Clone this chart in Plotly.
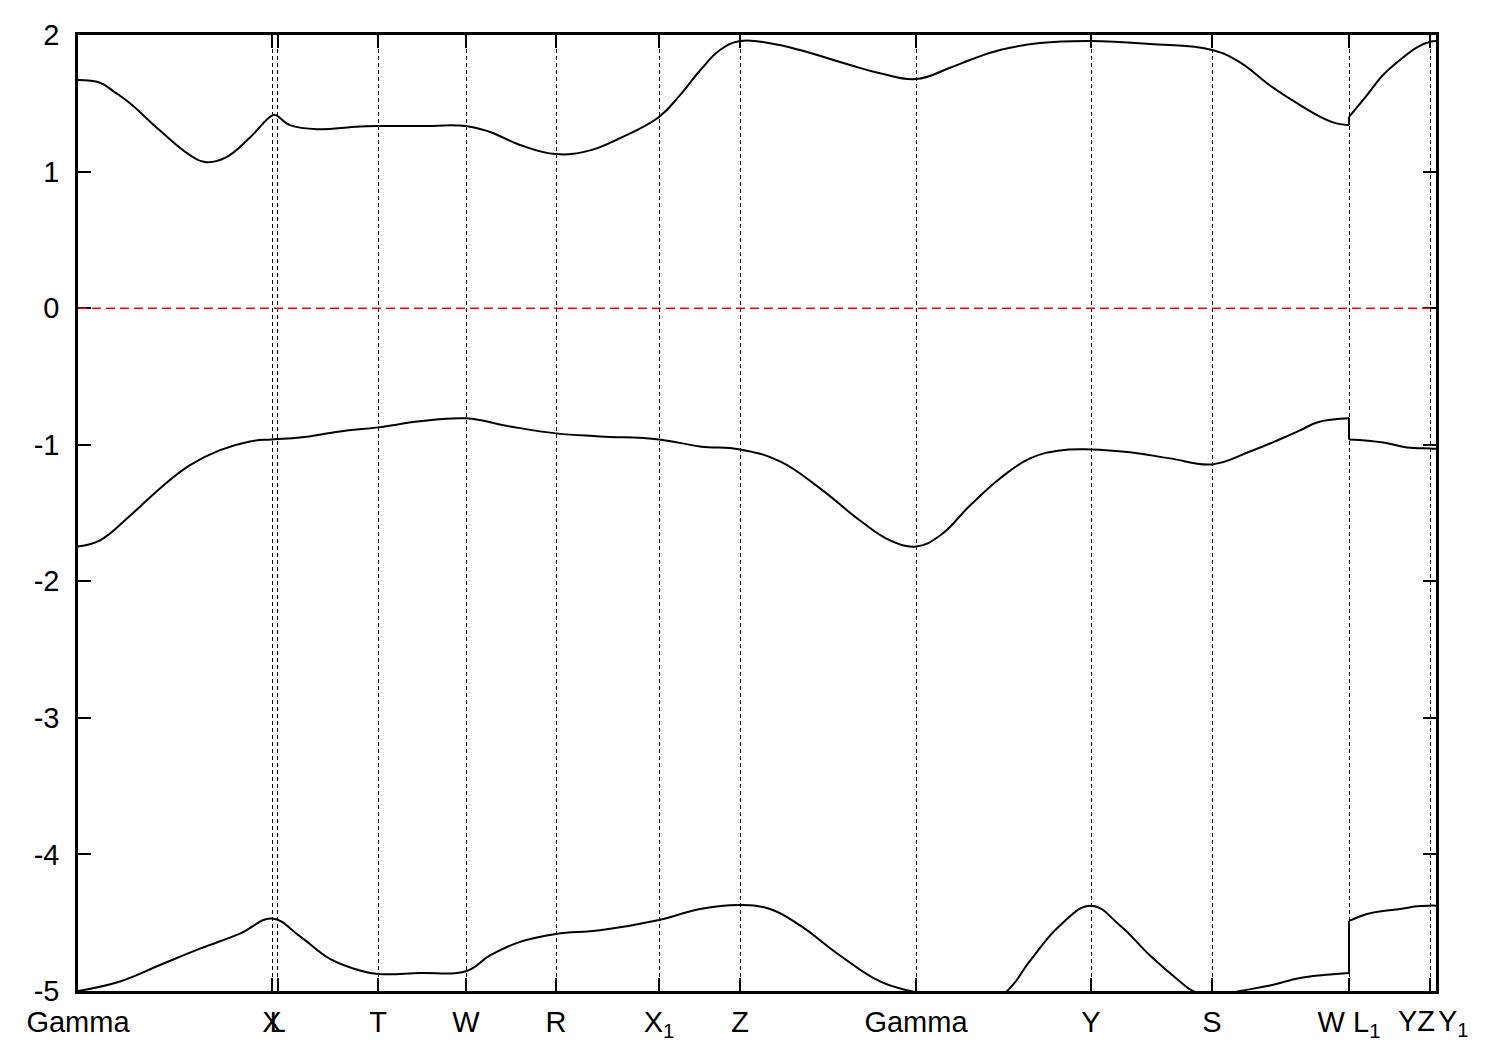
import plotly.graph_objects as go

# High-symmetry points along the k-path (path length, arbitrary units)
kpoint_pos = [0.0, 1.94, 1.995, 3.00, 3.88, 4.78, 5.81, 6.62, 8.38, 10.13, 11.34, 12.71, 13.52, 13.58]
kpoint_lab = ["Gamma", "X", "L", "T", "W", "R", "X<sub>1</sub>", "Z", "Gamma", "Y", "S", "W L<sub>1</sub>", " ", " "]

# Energy axis ticks
e_ticks = [-5, -4, -3, -2, -1, 0, 1, 2]
e_ticklab = ["-5", "-4", "-3", "-2", "-1", "0", "1", "2"]

# Band 1 (upper band) - segment before and after the W|L1 break
b1a_k = [0.0, 0.22, 0.37, 0.52, 0.82, 1.12, 1.27, 1.47, 1.72, 1.92, 1.97, 2.12, 2.42, 2.72, 3.00, 3.42, 3.88, 4.12, 4.42, 4.78, 5.12, 5.42, 5.81, 6.02, 6.22, 6.42, 6.62, 6.92, 7.22, 7.72, 8.02, 8.38, 8.72, 8.92, 9.22, 9.62, 10.13, 10.72, 11.34, 11.62, 11.92, 12.22, 12.39, 12.55, 12.71]
b1a_e = [1.670, 1.65, 1.58, 1.50, 1.30, 1.12, 1.07, 1.10, 1.25, 1.40, 1.415, 1.34, 1.31, 1.325, 1.333, 1.333, 1.333, 1.29, 1.195, 1.128, 1.155, 1.245, 1.40, 1.56, 1.74, 1.89, 1.956, 1.94, 1.89, 1.78, 1.72, 1.677, 1.76, 1.817, 1.89, 1.941, 1.956, 1.934, 1.89, 1.80, 1.63, 1.487, 1.414, 1.36, 1.34]
b1b_k = [12.71, 12.89, 13.05, 13.22, 13.39, 13.52, 13.58]
b1b_e = [1.40, 1.56, 1.707, 1.817, 1.91, 1.95, 1.956]

# Band 2 (middle band)
b2a_k = [0.0, 0.22, 0.52, 0.82, 1.12, 1.42, 1.72, 1.94, 2.22, 2.62, 3.00, 3.42, 3.88, 4.32, 4.78, 5.22, 5.81, 6.22, 6.62, 7.02, 7.42, 7.82, 8.12, 8.38, 8.62, 8.92, 9.22, 9.52, 9.82, 10.13, 10.52, 10.92, 11.34, 11.72, 12.02, 12.22, 12.39, 12.55, 12.71]
b2a_e = [-1.745, -1.70, -1.52, -1.32, -1.15, -1.04, -0.976, -0.961, -0.947, -0.903, -0.873, -0.829, -0.807, -0.866, -0.917, -0.939, -0.961, -1.013, -1.035, -1.122, -1.32, -1.555, -1.70, -1.745, -1.665, -1.445, -1.247, -1.10, -1.042, -1.035, -1.056, -1.10, -1.144, -1.05, -0.96, -0.895, -0.837, -0.815, -0.807]
b2b_k = [12.71, 13.05, 13.29, 13.52, 13.58]
b2b_e = [-0.961, -0.983, -1.02, -1.027, -1.03]

# Band 3 (lower band)
b3a_k = [0.0, 0.42, 0.82, 1.22, 1.62, 1.94, 2.22, 2.52, 2.82, 3.00, 3.42, 3.88, 4.12, 4.42, 4.78, 5.22, 5.81, 6.22, 6.62, 6.92, 7.22, 7.62, 8.02, 8.32, 8.38, 8.72, 9.02, 9.29, 9.52, 9.82, 10.13, 10.42, 10.72, 11.02, 11.15, 11.34, 11.62, 11.92, 12.22, 12.52, 12.71]
b3a_e = [-5.0, -4.93, -4.81, -4.69, -4.58, -4.47, -4.60, -4.765, -4.85, -4.875, -4.868, -4.855, -4.74, -4.64, -4.582, -4.555, -4.48, -4.40, -4.37, -4.40, -4.52, -4.74, -4.93, -5.0, -5.01, -5.12, -5.10, -5.0, -4.78, -4.52, -4.375, -4.52, -4.74, -4.93, -5.0, -5.04, -5.0, -4.96, -4.905, -4.88, -4.868]
b3b_k = [12.71, 12.89, 13.05, 13.22, 13.39, 13.52, 13.58]
b3b_e = [-4.487, -4.436, -4.414, -4.40, -4.38, -4.375, -4.375]

FONT = "Liberation Sans, Arial, Helvetica, sans-serif"
FSIZE = 29

fig = go.Figure()
segments = [
    (b1a_k, b1a_e), (b1b_k, b1b_e),
    (b2a_k, b2a_e), (b2b_k, b2b_e),
    (b3a_k, b3a_e), (b3b_k, b3b_e),
]
for i in range(0, len(segments), 2):
    ka, ea = segments[i]
    kb, eb = segments[i + 1]
    # jump line joining the two segments at the W|L1 break
    fig.add_trace(go.Scatter(x=[ka[-1], kb[0]], y=[ea[-1], eb[0]], mode="lines",
                             line=dict(color="black", width=2), showlegend=False, hoverinfo="skip"))
    for k, e in (segments[i], segments[i + 1]):
        fig.add_trace(go.Scatter(x=k, y=e, mode="lines",
                                 line=dict(color="black", width=2, shape="spline", smoothing=1.2),
                                 showlegend=False))

# Fermi level
fig.add_shape(type="line", xref="paper", x0=0, x1=1, yref="y", y0=0, y1=0,
              line=dict(color="red", width=1.5, dash="9px,5px"), layer="above")

axis_common = dict(
    showline=True, linecolor="black", linewidth=2.5, mirror="ticks",
    ticks="inside", ticklen=13, tickwidth=2, tickcolor="black",
    zeroline=False, automargin=False,
    tickfont=dict(family=FONT, size=FSIZE, color="black"),
)

fig.update_layout(
    width=1500, height=1050,
    margin=dict(l=70, r=72, t=27, b=67),
    paper_bgcolor="white", plot_bgcolor="white",
    font=dict(family=FONT, size=FSIZE, color="black"),
    xaxis=dict(range=[kpoint_pos[0], kpoint_pos[-1]], tickmode="array",
               tickvals=kpoint_pos, ticktext=kpoint_lab, tickangle=0,
               showgrid=True, gridcolor="black", gridwidth=1, griddash="4px,3px",
               ticklabelstandoff=3, **axis_common),
    yaxis=dict(range=[-5, 2], tickmode="array", tickvals=e_ticks, ticktext=e_ticklab,
               showgrid=False, ticklabelstandoff=10, **axis_common),
    showlegend=False,
)

# Crowded labels at the end of the path
fig.add_annotation(x=kpoint_pos[12], xref="x", y=0, yref="paper", text="YZ",
                   showarrow=False, xanchor="right", yanchor="top", xshift=7, yshift=-12,
                   font=dict(family=FONT, size=FSIZE, color="black"))
fig.add_annotation(x=kpoint_pos[13], xref="x", y=0, yref="paper", text="Y<sub>1</sub>",
                   showarrow=False, xanchor="left", yanchor="top", xshift=0, yshift=-12,
                   font=dict(family=FONT, size=FSIZE, color="black"))

fig.write_html("out.html")
